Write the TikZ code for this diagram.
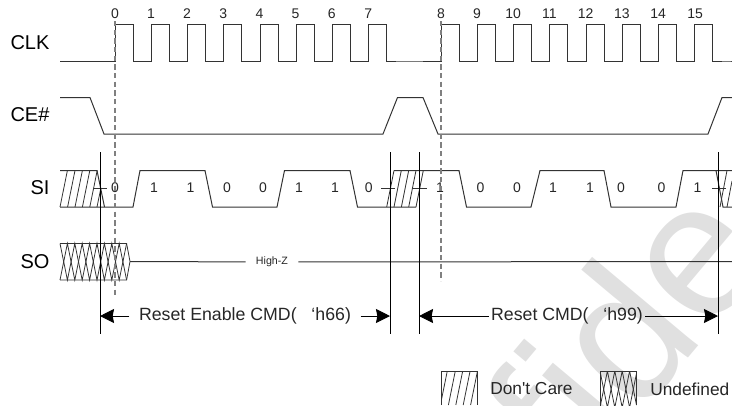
\documentclass[tikz,border=0pt]{standalone}
\usepackage{fontspec}
\setmainfont{Liberation Sans}[Ligatures=TeXOff]
\usetikzlibrary{arrows.meta}
\definecolor{wmgray}{HTML}{E0E0E0}
\definecolor{wavegray}{HTML}{333333}
\newcommand{\clkpulse}{-- ++(0,-36.3) -- ++(18.1,0) -- ++(0,36.3) -- ++(18.15,0)}
\newcommand{\crosscell}{-- ++(7.4,36.5) -- ++(7.4,-36.5)}
\tikzset{
    wave/.style={draw=wavegray,line width=.75pt},
    thin wave/.style={draw=wavegray,line width=.6pt},
    guide/.style={draw=black,line width=.75pt},
    clkguide/.style={draw=gray,line width=.9pt,dash pattern=on 4pt off 2.5pt},
    span/.style={draw=black,line width=.75pt,-{Stealth[length=10.5pt,width=10.5pt,inset=1pt]}},
    signame/.style={font=\fontsize{15}{17}\selectfont,inner sep=0pt},
    digit/.style={font=\fontsize{10.5}{12}\selectfont,inner sep=0pt,text=black!85},
    spantext/.style={font=\fontsize{13}{15}\selectfont,inner sep=1.5pt,text=black!85}
}
\begin{document}
\begin{tikzpicture}[x=.75pt,y=-.75pt]
    \useasboundingbox (0,0) rectangle (732,405);
    % watermark
    \node[anchor=base west,inner sep=0pt,rotate=50,text=wmgray,font=\fontsize{143}{150}\selectfont] (wm) at (577,491) {fide};
    % signal names
    \node[signame] (clk) at (30,43) {CLK};
    \node[signame] (ce) at (30,115) {CE\#};
    \node[signame] (si) at (40,188) {SI};
    \node[signame] (so) at (35,261.5) {SO};
    % cycle numbers
    \draw (115,14) node[digit] (n0) {0}
        ++(36,0) node[digit] (n1) {1}
        ++(36,0) node[digit] (n2) {2}
        ++(36.2,0) node[digit] (n3) {3}
        ++(36.2,0) node[digit] (n4) {4}
        ++(36.2,0) node[digit] (n5) {5}
        ++(36.2,0) node[digit] (n6) {6}
        ++(36.4,0) node[digit] (n7) {7}
        ++(72.7,0) node[digit] (n8) {8}
        ++(36,0) node[digit] (n9) {9}
        ++(36.3,0) node[digit] (n10) {10}
        ++(36.2,0) node[digit] (n11) {11}
        ++(36.2,0) node[digit] (n12) {12}
        ++(36.2,0) node[digit] (n13) {13}
        ++(36.3,0) node[digit] (n14) {14}
        ++(37,0) node[digit] (n15) {15};
    % CLK
    \draw[wave] (60,61) -- (115,61) \clkpulse \clkpulse \clkpulse \clkpulse
        \clkpulse \clkpulse \clkpulse \clkpulse
        -- (441,61) \clkpulse \clkpulse \clkpulse \clkpulse
        \clkpulse \clkpulse \clkpulse \clkpulse -- (732,61);
    % CE#
    \draw[wave] (60,97.5) -- (90,97.5) -- (104,134) -- (383,134) -- (397.5,97.5)
        -- (423,97.5) -- (438,134) -- (708,134) -- (722,97.5) -- (732,97.5);
    % SI
    \begin{scope}
        \draw[wave] (60,170.5) -- (97,170.5) -- (104.5,207);
        \draw[wave] (60,207) -- (133,207) -- (140,170.5) -- (205,170.5) -- (212.5,207)
            -- (277,207) -- (284.5,170.5) -- (350,170.5) -- (357.5,207) -- (416,207);
        \draw[wave] (394,170.5) -- (459,170.5) -- (466.5,207) -- (531,207) -- (540,170.5)
            -- (604,170.5) -- (611,207) -- (676,207) -- (683,170.5) -- (732,170.5);
        \draw[wave] (716,170.5) -- (723,207) -- (732,207);
        % don't care hatch
        \draw[thin wave] (60,207) -- ++(7.4,-36.5) (67.6,207) -- ++(7.4,-36.5)
            (75,207) -- ++(7.4,-36.5) (82.4,207) -- ++(7.4,-36.5)
            (89.8,207) -- ++(7.4,-36.5) (97,207) -- ++(3.8,-18.5);
        \draw[thin wave] (386.7,207) -- ++(7.3,-36.5) (394,207) -- ++(7.3,-36.5)
            (401.4,207) -- ++(7.3,-36.5) (408.7,207) -- ++(7.3,-36.5)
            (416,207) -- ++(7.3,-36.5);
        \draw[thin wave] (720,207) -- ++(7,-36.5) (727,207) -- ++(5,-26);
        % bus ticks
        \draw[thin wave] (93,188.5) -- (107,188.5) (381,188.5) -- (395,188.5)
            (413,188.5) -- (427,188.5) (712,188.5) -- (726,188.5);
        \draw (115,188) node[digit] (d0) {0}
            ++(39,0) node[digit] (d1) {1}
            ++(36.5,0) node[digit] (d2) {1}
            ++(36.5,0) node[digit] (d3) {0}
            ++(36,0) node[digit] (d4) {0}
            ++(36,0) node[digit] (d5) {1}
            ++(36,0) node[digit] (d6) {1}
            ++(33.7,0) node[digit] (d7) {0}
            ++(71.3,0) node[digit] (d8) {1}
            ++(40.5,0) node[digit] (d9) {0}
            ++(36.5,0) node[digit] (d10) {0}
            ++(36,0) node[digit] (d11) {1}
            ++(37,0) node[digit] (d12) {1}
            ++(31,0) node[digit] (d13) {0}
            ++(40.5,0) node[digit] (d14) {0}
            ++(36,0) node[digit] (d15) {1};
    \end{scope}
    % SO
    \begin{scope}
        \draw[thin wave] (60,243.5) -- (126.6,243.5) -- (130,261.5) -- (126.6,280) -- (60,280);
        \draw[thin wave] (60,243.5) \crosscell \crosscell \crosscell \crosscell -- ++(7.4,36.5);
        \draw[thin wave] (60,280) -- ++(7.4,-36.5) -- ++(7.4,36.5) -- ++(7.4,-36.5) -- ++(7.4,36.5)
            -- ++(7.4,-36.5) -- ++(7.4,36.5) -- ++(7.4,-36.5) -- ++(7.4,36.5) -- ++(7.4,-36.5);
        \coordinate (sostart) at (130,261.5);
        \coordinate (soend) at (732,261.5);
        \node[inner xsep=7.5pt,inner ysep=0pt,font=\fontsize{8}{9}\selectfont,text=black!85] (hz) at (272,262) {High-Z};
        \draw[wave] (sostart) -- (hz) -- (soend);
    \end{scope}
    % clock guides
    \coordinate (g0t) at (115,21);
    \coordinate (g0b) at (115,298);
    \coordinate (g8t) at (441,21);
    \coordinate (g8b) at (441,281);
    \draw[clkguide] (g0t) -- (g0b);
    \draw[clkguide] (g8t) -- (g8b);
    % span limits
    \coordinate (s1t) at (100,152);
    \coordinate (s1m) at (100,316);
    \coordinate (s1b) at (100,334);
    \coordinate (s2t) at (390,152);
    \coordinate (s2m) at (390,316);
    \coordinate (s2b) at (390,334);
    \coordinate (s3t) at (419,152);
    \coordinate (s3m) at (419,316);
    \coordinate (s3b) at (419,334);
    \coordinate (s4t) at (718,152);
    \coordinate (s4m) at (718,316);
    \coordinate (s4b) at (718,334);
    \draw[guide] (s1t) -- (s1b);
    \draw[guide] (s2t) -- (s2b);
    \draw[guide] (s3t) -- (s3b);
    \draw[guide] (s4t) -- (s4b);
    \node[spantext,inner xsep=7pt,font=\fontsize{13.3}{15}\selectfont] (cmd1) at (245,316) {Reset Enable CMD(\ \ \ ‘h66)};
    \node[spantext,font=\fontsize{13.3}{15}\selectfont] (cmd2) at (567,316) {Reset CMD(\ \ \ ‘h99)};
    \draw[span] (cmd1) -- (s1m);
    \draw[span] (cmd1) -- (s2m);
    \draw[span] (cmd2) -- (s3m);
    \draw[span] (cmd2) -- (s4m);
    % legend
    \begin{scope}
        \draw[thin wave] (441,405) -- (441,371) -- (477,371) -- (477,405);
        \clip (441,371) rectangle (477,405);
        \draw[thin wave] (441,402) -- ++(7.4,-36.5) (448.4,405) -- ++(7.4,-36.5)
            (455.8,405) -- ++(7.4,-36.5) (463.2,405) -- ++(7.4,-36.5) (470.6,405) -- ++(7.4,-36.5);
    \end{scope}
    \node[spantext,anchor=west,inner sep=0pt] (dc) at (490,389) {Don't Care};
    \begin{scope}
        \draw[thin wave] (600,405) -- (600,371) -- (636,371) -- (636,405);
        \clip (600,371) rectangle (636,405);
        \draw[thin wave] (600,371) \crosscell \crosscell \crosscell;
        \draw[thin wave] (600,407.5) -- ++(7.4,-36.5) -- ++(7.4,36.5) -- ++(7.4,-36.5) -- ++(7.4,36.5) -- ++(7.4,-36.5);
    \end{scope}
    \node[spantext,anchor=west,inner sep=0pt] (ud) at (650,389) {Undefined};
\end{tikzpicture}
\end{document}
